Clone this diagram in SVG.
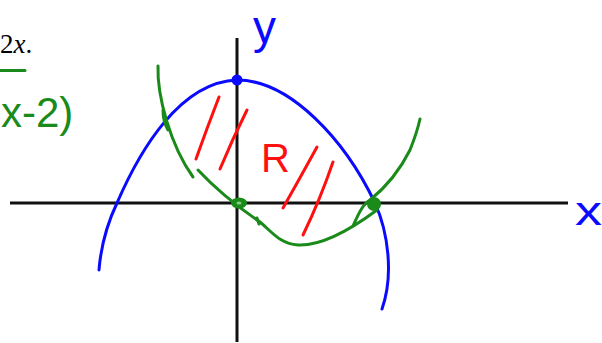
<svg xmlns="http://www.w3.org/2000/svg" width="602" height="343" viewBox="0 0 602 343">
<style>
.ax{stroke:#111;stroke-width:3;fill:none;stroke-linecap:butt}
.bl{stroke:#0a0aff;stroke-width:3;fill:none;stroke-linecap:round;stroke-linejoin:round}
.gr{stroke:#1a8a1a;stroke-width:3;fill:none;stroke-linecap:round;stroke-linejoin:round}
.rd{stroke:#ff1010;stroke-width:3;fill:none;stroke-linecap:round}
.hand{font-family:"Liberation Sans","DejaVu Sans",sans-serif}
</style>
<rect width="602" height="343" fill="#fff"/>
<g id="header">
<text x="0" y="53" font-family="'Liberation Serif',serif" font-size="27" fill="#000">2<tspan font-style="italic">x</tspan>.</text>
<line x1="0" y1="70.5" x2="25" y2="70.5" class="gr"/>
<text x="1" y="127" class="hand" font-size="42" fill="#1a8a1a">x-2)</text>
</g>
<g id="axes">
<line x1="10" y1="203" x2="568" y2="203" class="ax"/>
<line x1="237" y1="38" x2="237" y2="342" class="ax"/>
<text x="253" y="43" class="hand" font-size="46" fill="#0a0aff">y</text>
<text x="575" y="225" class="hand" font-size="40" fill="#0a0aff" textLength="27" lengthAdjust="spacingAndGlyphs">x</text>
</g>
<g id="region">
<path class="rd" d="M219,97 Q207,128 196,159"/>
<path class="rd" d="M247,110 Q232,140 220,169"/>
<path class="rd" d="M317,147 Q300,178 283,208"/>
<path class="rd" d="M333,162 Q320,200 303,235"/>
<text x="261" y="172" class="hand" font-size="40" fill="#ff1010">R</text>
</g>
<g id="parabola-blue">
<path class="bl" d="M99,270 C101,245 108,222 117,203 C140,150 180,82 237,80 C290,80 345,140 375,203 C388,232 394,275 382,309"/>
<circle cx="237" cy="80" r="5.5" fill="#0a0aff"/>
</g>
<g id="parabola-green">
<path class="gr" d="M158,66 C157,95 170,145 193,177"/>
<path class="gr" d="M163,110 C163,118 165,125 168,130"/>
<path class="gr" d="M198,170 C212,185 235,205 260,222 C272,232 280,244 298,245 C320,246 350,230 377,210"/>
<path class="gr" d="M259,224 L257,218"/>
<path class="gr" d="M353,226 C358,215 362,205 370,200 C385,188 400,170 410,150 C414,140 418,128 420,119"/>
<ellipse cx="239" cy="203" rx="8" ry="5.5" fill="#1a8a1a"/>
<ellipse cx="239" cy="203" rx="2.5" ry="1.5" fill="#8c8"/>
<circle cx="374" cy="204" r="7" fill="#1a8a1a"/>
</g>
</svg>
